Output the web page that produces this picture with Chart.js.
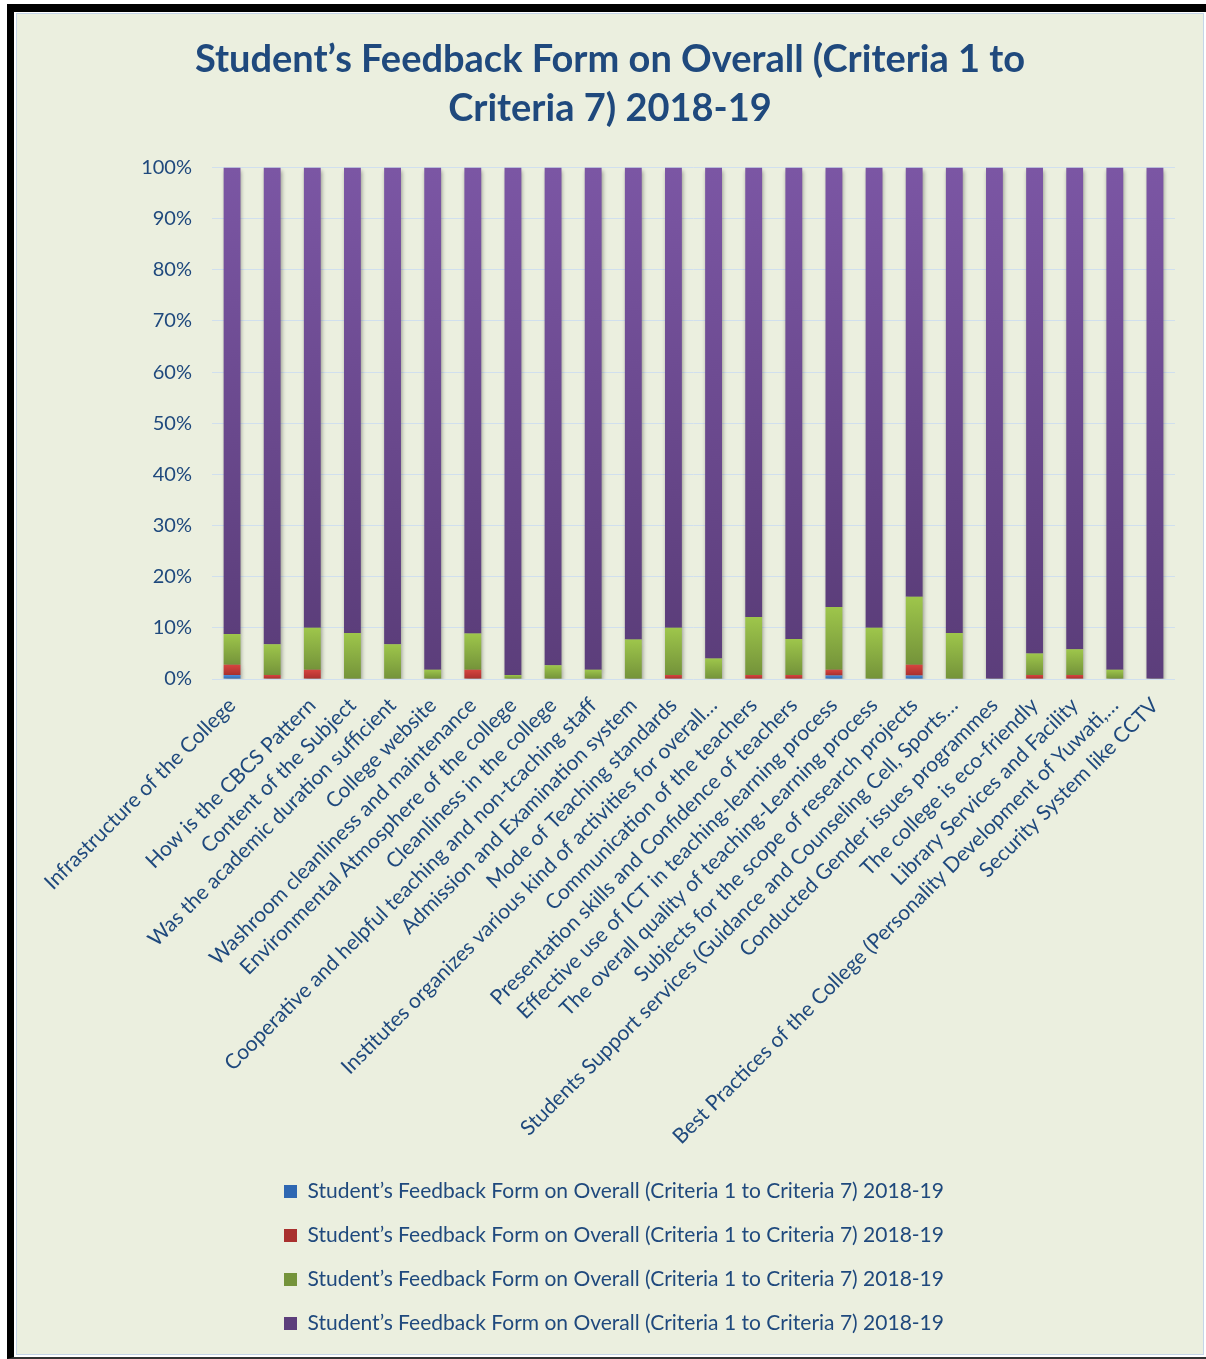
<!DOCTYPE html>
<html>
<head>
<meta charset="utf-8">
<script src="https://cdn.jsdelivr.net/npm/chart.js@4.4.1/dist/chart.umd.min.js"></script>
<style>
  body { margin: 0; background: #fff; }
  #frame {
    position: absolute; left: 7px; top: 4px; width: 1199px; height: 1355px;
    box-sizing: border-box; border-top: 8px solid #000; border-left: 7px solid #000;
    border-bottom: 2px solid #333; background: #fff;
  }
  #inner {
    position: absolute; left: 2px; top: 1px; right: 2px; bottom: 2px;
    border: 1px solid #c5d5e8; background: #EBEFDF;
  }
  #myChart { display: block; }
</style>
</head>
<body>
<div id="frame"><div id="inner"><canvas id="myChart" width="1186" height="1340"></canvas></div></div>
<script>
// categories (bar 2 has no label in the original)
const categories = [
    'Infrastructure of the College',
    '',
    'How is the CBCS Pattern',
    'Content of the Subject',
    'Was the academic duration sufficient',
    'College website',
    'Washroom cleanliness and maintenance',
    'Environmental Atmosphere of the college',
    'Cleanliness in the college',
    'Cooperative and helpful teaching and non-tcaching staff',
    'Admission and Examination system',
    'Mode of Teaching standards',
    'Institutes organizes various kind of activities for overall…',
    'Communication of the teachers',
    'Presentation skills and Confidence of teachers',
    'Effective use of ICT in teaching-learning process',
    'The overall quality of teaching-Learning process',
    'Subjects for the scope of research projects',
    'Students Support services (Guidance and Counseling Cell, Sports…',
    'Conducted Gender issues programmes',
    'The college is eco-friendly',
    'Library Services and Facility',
    'Best Practices of the College (Personality Development of Yuwati,…',
    'Security System like CCTV'
];

const seriesName = 'Student’s Feedback Form on Overall (Criteria 1 to Criteria 7) 2018-19';

// percentages
const blueValues   = [0.8, 0, 0, 0, 0, 0, 0, 0, 0, 0, 0, 0, 0, 0, 0, 0.7, 0, 0.7, 0, 0, 0, 0, 0, 0];
const redValues    = [2.0, 0.8, 1.8, 0, 0, 0, 1.8, 0, 0, 0, 0, 0.8, 0, 0.8, 0.8, 1.1, 0, 2.1, 0, 0, 0.8, 0.8, 0, 0];
const greenValues  = [6.0, 6.0, 8.2, 9.0, 6.8, 1.8, 7.1, 0.8, 2.7, 1.8, 7.7, 9.2, 4.0, 11.3, 7.0, 12.3, 10.0, 13.3, 9.0, 0, 4.2, 5.0, 1.8, 0];
const purpleValues = [91.2, 93.2, 90.0, 91.0, 93.2, 98.2, 91.1, 99.2, 97.3, 98.2, 92.3, 90.0, 96.0, 87.9, 92.2, 85.9, 90.0, 83.9, 91.0, 100, 95.0, 94.2, 98.2, 100];

const yTicks = [0, 10, 20, 30, 40, 50, 60, 70, 80, 90, 100];

const textColor = '#1F497D';

// vertical gradient for each stacked segment, light on top, dark at the bottom
function segmentGradient(topColor, bottomColor, flatColor) {
    return function(context) {
        const chart = context.chart;
        if (context.type !== 'data' || !chart.chartArea || !chart.scales.y) {
            return flatColor;
        }
        const i = context.dataIndex;
        const d = context.datasetIndex;
        let base = 0;
        for (let k = 0; k < d; k++) {
            base += chart.data.datasets[k].data[i];
        }
        const v = chart.data.datasets[d].data[i];
        const y0 = chart.scales.y.getPixelForValue(base);
        const y1 = chart.scales.y.getPixelForValue(base + v);
        if (!isFinite(y0) || !isFinite(y1) || y0 === y1) {
            return flatColor;
        }
        const g = chart.ctx.createLinearGradient(0, y1, 0, y0);
        g.addColorStop(0, topColor);
        g.addColorStop(1, bottomColor);
        return g;
    };
}

// soft drop shadow under the bars, like the office chart
const barShadow = {
    id: 'barShadow',
    beforeDatasetsDraw(chart) {
        const ctx = chart.ctx;
        ctx.save();
        ctx.shadowColor = 'rgba(0, 0, 0, 0.35)';
        ctx.shadowBlur = 4;
        ctx.shadowOffsetX = 1;
        ctx.shadowOffsetY = 3;
    },
    afterDatasetsDraw(chart) {
        chart.ctx.restore();
    }
};

// title and legend are centred on the whole chart box, not on the padded area
const recentre = {
    id: 'recentre',
    afterLayout(chart) {
        const shift = 14;
        [chart.titleBlock, chart.legend].forEach(box => {
            if (box) {
                box.left += shift;
                box.right += shift;
            }
        });
        if (chart.legend) {
            chart.legend.left += 4;
            chart.legend.right += 4;
        }
    }
};

function makeDataset(values, topColor, bottomColor, flatColor) {
    return {
        label: seriesName,
        data: values,
        backgroundColor: segmentGradient(topColor, bottomColor, flatColor),
        borderWidth: 0,
        barPercentage: 0.84,
        categoryPercentage: 0.5
    };
}

const ctx = document.getElementById('myChart').getContext('2d');
new Chart(ctx, {
    type: 'bar',
    data: {
        labels: categories,
        datasets: [
            makeDataset(blueValues, '#4F8FDB', '#2E67B2', '#3A78C6'),
            makeDataset(redValues, '#D6443F', '#A9302E', '#C0392F'),
            makeDataset(greenValues, '#9EC64B', '#74933A', '#8DB243'),
            makeDataset(purpleValues, '#7B56A4', '#5C3E7B', '#7650A2')
        ]
    },
    plugins: [barShadow, recentre],
    options: {
        responsive: false,
        animation: false,
        layout: {
            padding: { left: 0, right: 28, top: 0, bottom: 10 }
        },
        plugins: {
            title: {
                display: true,
                text: ['Student’s Feedback Form on Overall (Criteria 1 to', 'Criteria 7) 2018-19'],
                color: textColor,
                font: { family: 'Lato', size: 38, weight: 'bold', lineHeight: 1.27 },
                padding: { top: 22, bottom: 35 }
            },
            legend: {
                position: 'bottom',
                labels: {
                    color: textColor,
                    font: { family: 'Lato', size: 21 },
                    boxWidth: 13,
                    boxHeight: 13,
                    padding: 23
                }
            },
            tooltip: { enabled: false }
        },
        scales: {
            x: {
                stacked: true,
                afterFit: function(scale) { scale.height = 479; },
                grid: { display: false },
                border: { display: false },
                ticks: {
                    autoSkip: false,
                    maxRotation: 45,
                    minRotation: 45,
                    color: textColor,
                    font: { family: 'Lato', size: 21 },
                    padding: 6
                }
            },
            y: {
                stacked: true,
                min: 0,
                max: 100,
                afterFit: function(scale) { scale.width = 195; },
                afterBuildTicks: function(scale) {
                    scale.ticks = yTicks.map(v => ({ value: v }));
                },
                grid: { color: '#D0DFEE', lineWidth: 1, drawTicks: false },
                border: { display: false },
                ticks: {
                    color: textColor,
                    font: { family: 'Lato', size: 20 },
                    padding: 20,
                    callback: function(value) { return value + '%'; }
                }
            }
        }
    }
});
</script>
</body>
</html>
